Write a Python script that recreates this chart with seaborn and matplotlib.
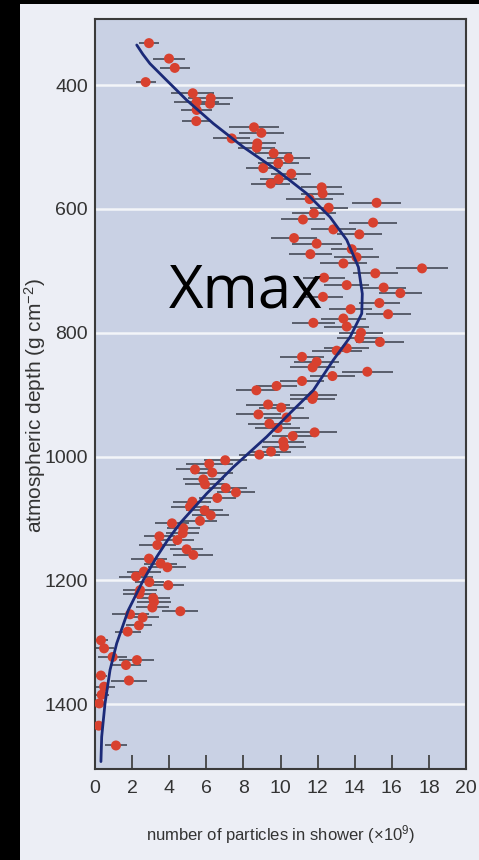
import matplotlib
matplotlib.use("Agg")
import matplotlib.pyplot as plt
import seaborn as sns
from matplotlib.patches import Rectangle

# ---- data ----
pt_n = [2.91, 3.99, 4.30, 2.73, 5.27, 5.48, 6.24, 6.20, 5.48, 5.46,
        8.57, 8.97, 7.37, 8.75, 8.72, 9.63, 10.44, 9.88, 9.07, 10.58,
        9.90, 9.47, 12.22, 12.27, 11.57, 15.18, 12.60, 11.80, 11.21, 14.99,
        12.85, 14.25, 10.73, 11.95, 13.84, 11.61, 14.10, 13.39, 17.63, 15.11,
        12.35, 13.57, 15.56, 16.46, 12.29, 15.33, 13.78, 15.80, 13.39, 11.77,
        13.57, 14.34, 14.25, 15.36, 13.57, 13.03, 11.16, 11.95, 11.73, 14.68,
        12.80, 11.16, 9.79, 8.70, 11.77, 11.72, 9.33, 10.04, 8.81, 10.33,
        9.40, 9.85, 11.84, 10.66, 10.15, 10.19, 9.49, 8.86, 7.02, 6.16,
        5.39, 6.32, 5.84, 5.93, 7.05, 7.60, 6.59, 5.25, 5.12, 5.91,
        6.24, 5.66, 4.15, 4.76, 4.73, 3.47, 4.44, 3.36, 4.94, 5.30,
        2.91, 3.54, 3.90, 2.64, 2.21, 2.93, 3.95, 2.43, 2.39, 3.14,
        3.18, 3.09, 4.60, 1.89, 2.57, 2.37, 1.76, 0.32, 0.49, 0.95,
        2.26, 1.67, 0.32, 1.83, 0.49, 0.36, 0.23, 0.20, 1.13]
pt_depth = [332, 357, 372, 395, 413, 427, 421, 430, 440, 458,
            468, 477, 486, 494, 501, 510, 518, 526, 534, 543,
            552, 559, 565, 575, 584, 590, 598, 607, 617, 622,
            633, 641, 647, 656, 665, 673, 678, 688, 696, 704,
            711, 723, 727, 736, 742, 752, 762, 770, 777, 784,
            790, 800, 809, 815, 825, 829, 839, 847, 856, 863,
            870, 878, 886, 893, 901, 907, 916, 921, 932, 937,
            947, 954, 961, 967, 976, 984, 992, 997, 1006, 1012,
            1021, 1026, 1037, 1045, 1051, 1058, 1067, 1073, 1081, 1087,
            1095, 1104, 1108, 1116, 1124, 1129, 1135, 1143, 1150, 1159,
            1165, 1173, 1179, 1186, 1194, 1203, 1208, 1216, 1222, 1229,
            1235, 1244, 1250, 1255, 1260, 1273, 1283, 1297, 1310, 1324,
            1329, 1337, 1354, 1362, 1372, 1385, 1399, 1435, 1467]
pt_err = [0.54, 0.85, 0.81, 0.54, 1.17, 1.20, 1.20, 1.10, 0.85, 0.76,
          1.37, 1.21, 0.99, 1.03, 1.00, 0.99, 1.17, 1.10, 0.94, 1.08,
          1.00, 1.06, 1.12, 1.17, 1.26, 1.33, 1.03, 1.17, 1.17, 1.30,
          1.21, 1.21, 1.26, 1.35, 1.12, 1.17, 1.20, 1.26, 1.39, 1.20,
          1.12, 1.20, 1.20, 1.17, 1.10, 1.12, 1.17, 1.21, 1.20, 1.17,
          1.20, 1.20, 1.20, 1.28, 1.20, 1.35, 1.17, 1.20, 1.21, 1.39,
          1.20, 1.21, 1.12, 1.12, 1.26, 1.20, 1.17, 1.20, 1.21, 1.21,
          1.17, 1.20, 1.19, 1.12, 1.10, 1.17, 1.10, 1.10, 1.17, 1.26,
          1.00, 1.10, 1.10, 1.10, 1.12, 1.03, 1.00, 1.03, 1.00, 1.00,
          1.00, 0.90, 0.94, 0.90, 0.90, 0.85, 0.90, 1.00, 0.90, 1.08,
          0.99, 0.90, 1.03, 0.90, 0.90, 0.80, 0.85, 0.90, 0.90, 0.90,
          0.90, 0.90, 0.97, 1.00, 0.90, 0.70, 0.70, 0.40, 0.55, 0.80,
          0.94, 0.80, 0.30, 0.97, 0.60, 0.40, 0.30, 0.20, 0.60]

curve_depth = [335, 350, 365, 392, 424, 462, 500, 537, 575, 613, 650, 694,
               737, 769, 807, 844, 893, 930, 968, 1017, 1060, 1108, 1135,
               1162, 1200, 1248, 1302, 1345, 1399, 1453, 1493]
curve_n = [2.25, 2.58, 2.96, 3.86, 4.94, 6.38, 8.0, 9.79, 11.41, 12.67, 13.57,
           14.2, 14.41, 14.38, 13.75, 12.85, 11.77, 10.51, 9.26, 7.46, 6.02,
           4.58, 3.92, 3.33, 2.6, 1.8, 1.17, 0.81, 0.54, 0.36, 0.32]

x_ticks = [0, 2, 4, 6, 8, 10, 12, 14, 16, 18, 20]
y_ticks = [400, 600, 800, 1000, 1200, 1400]
x_label = "number of particles in shower (×10$^{9}$)"
y_label = "atmospheric depth (g cm$^{-2}$)"
annotation = "Xmax"

# ---- styling ----
sns.set_theme(style="white")
plt.rcParams["font.family"] = ["Liberation Sans", "DejaVu Sans"]
plt.rcParams["mathtext.default"] = "regular"

W, H = 479, 860
fig = plt.figure(figsize=(W / 100, H / 100), dpi=100, facecolor="black")
fig.add_artist(Rectangle((20 / W, 0), 1, (H - 4) / H, transform=fig.transFigure,
                         facecolor="#eceef5", edgecolor="none", zorder=-10))

ax = fig.add_axes([95 / W, 1 - 769 / H, (466 - 95) / W, (769 - 19) / H])
ax.set_facecolor("#c9d1e4")

ax.errorbar(pt_n, pt_depth, xerr=pt_err, fmt="none", ecolor="#585d6b",
            elinewidth=1.4, capsize=0, zorder=2)
sns.scatterplot(x=pt_n, y=pt_depth, ax=ax, color="#d8412f", s=52,
                edgecolor="none", linewidth=0, zorder=3)
sns.lineplot(x=curve_n, y=curve_depth, ax=ax, sort=False, estimator=None,
             color="#1b2a78", linewidth=2.0, zorder=4)

ax.set_xlim(0, 20)
ax.set_ylim(1505, 293)
ax.set_xticks(x_ticks)
ax.set_yticks(y_ticks)
ax.yaxis.grid(True, color="#f3f5f9", linewidth=1.8)
ax.xaxis.grid(False)
ax.set_axisbelow(True)

for s in ax.spines.values():
    s.set_visible(True)
    s.set_color("#3a3a3a")
    s.set_linewidth(1.5)

ax.tick_params(axis="x", direction="in", length=10, width=1.3, color="#444444",
               labelsize=14, pad=8, labelcolor="#333333", bottom=True)
ax.tick_params(axis="y", length=0, pad=5, labelsize=14, labelcolor="#333333")

ax.set_xlabel(x_label, fontsize=12, color="#333333", labelpad=19)
ax.set_ylabel(y_label, fontsize=15, color="#333333")
ax.yaxis.set_label_coords(-0.128, 0.484)

fig.text(246 / W, 1 - 307 / H, annotation, family="Open Sans", fontsize=43,
         ha="center", va="baseline", color="black")

fig.savefig("out.png", dpi=100, facecolor=fig.get_facecolor())
